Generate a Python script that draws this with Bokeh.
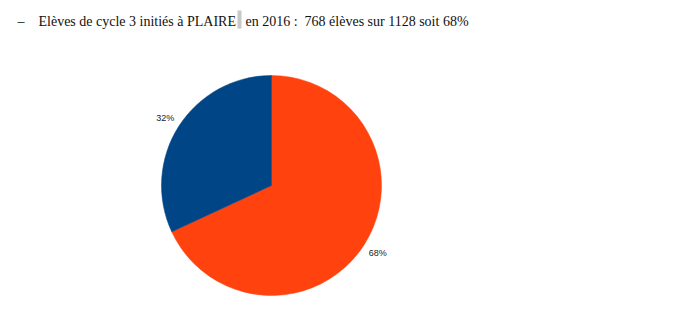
import math
from bokeh.plotting import figure
from bokeh.models import Range1d, ColumnDataSource
from bokeh.core.properties import value
from bokeh.embed import file_html
from bokeh.resources import INLINE

# Data
categories = ["Non initiés", "Initiés à PLAIRE"]
counts = [360, 768]
colors = ["#004586", "#ff420e"]
title_part1 = "Elèves de cycle 3 initiés à PLAIRE"
title_part2 = "en 2016 :\u00a0 768 élèves sur 1128 soit 68%"

W, H = 700, 309
p = figure(width=W, height=H, output_backend="svg", toolbar_location=None,
           x_range=Range1d(0, W), y_range=Range1d(0, H), min_border=0)
p.axis.visible = False
p.grid.visible = False
p.outline_line_color = None
p.background_fill_color = "white"
p.border_fill_color = "white"

cx, cy, r = 271, H - 185, 110
total = sum(counts)
# orange (initiés) starts at 12 o'clock going clockwise, then blue
order = [1, 0]
start = math.pi / 2
starts, ends, cols, lx, ly, labels = [], [], [], [], [], []
for i in order:
    span = 2 * math.pi * counts[i] / total
    s, e = start, start - span
    starts.append(s); ends.append(e); cols.append(colors[i])
    mid = (s + e) / 2
    lx.append(cx + 126 * math.cos(mid)); ly.append(cy + 126 * math.sin(mid))
    labels.append(f"{round(100 * counts[i] / total)}%")
    start = e

src = ColumnDataSource(dict(s=starts, e=ends, c=cols))
p.wedge(x=cx, y=cy, radius=r, start_angle="s", end_angle="e", direction="clock",
        fill_color="c", line_color="c", line_width=0.5, source=src)
p.text(x=lx, y=ly, text=labels, text_font=value("Liberation Sans"),
       text_font_size="9px", text_align="center", text_baseline="middle",
       text_color="#222222")

# Title line (document text)
fs = "14px"
ty = H - 21
p.quad(left=237, right=241, bottom=H - 28, top=H - 10, fill_color="#c8c8c8", line_color=None)
p.text(x=[17], y=[ty], text=["–"], text_font=value("Liberation Serif"),
       text_font_size=fs, text_baseline="alphabetic", text_color="#111111")
p.text(x=[38], y=[ty], text=[title_part1], text_font=value("Liberation Serif"),
       text_font_size=fs, text_baseline="alphabetic", text_color="#111111")
p.text(x=[245], y=[ty], text=[title_part2], text_font=value("Liberation Serif"),
       text_font_size=fs, text_baseline="alphabetic", text_color="#111111")

open("out.html", "w").write(file_html(p, INLINE))
